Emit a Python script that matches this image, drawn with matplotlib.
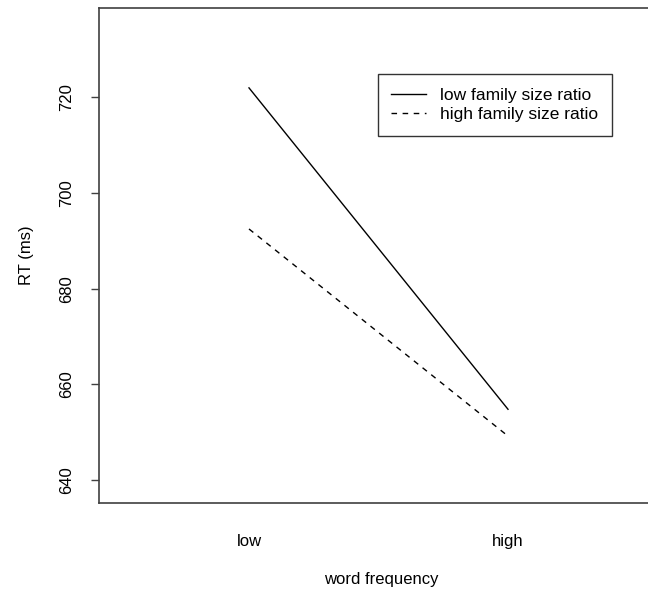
import matplotlib.pyplot as plt

plt.rcParams['font.family'] = ['Liberation Sans', 'DejaVu Sans']

freq_levels = ["low", "high"]
rt_low_ratio = [722.0, 654.8]
rt_high_ratio = [692.5, 649.2]
y_ticks = [640, 660, 680, 700, 720]


def main():
	fig = plt.figure(figsize=(6.48, 5.92), dpi=100)
	# plot region runs past the right edge of the device
	ax = fig.add_axes([0.1528, 0.1503, 0.871, 0.837])

	x = [1, 2]
	ax.plot(x, rt_low_ratio, color="black", lw=1.0, ls="-",
		label="low family size ratio")
	ax.plot(x, rt_high_ratio, color="black", lw=1.0, ls=(0, (4, 4)),
		label="high family size ratio")

	ax.set_xlim(0.421, 2.6)
	ax.set_ylim(635.2, 738.8)

	ax.set_xticks(x)
	ax.set_xticklabels(freq_levels, fontsize=12)
	ax.tick_params(axis="x", length=0, pad=22)
	ax.set_yticks(y_ticks)
	ax.set_yticklabels([str(v) for v in y_ticks], rotation=90, va="center", fontsize=12)
	ax.tick_params(axis="y", length=6, width=1.0, color="#404040", pad=12)

	for s in ax.spines.values():
		s.set_color("#404040")
		s.set_linewidth(1.2)

	ax.set_xlabel("word frequency", fontsize=12, labelpad=17)
	ax.set_ylabel("RT (ms)", fontsize=12, labelpad=18)

	leg = ax.legend(loc="upper left", bbox_to_anchor=(0.494, 0.866),
		frameon=True, fancybox=False, fontsize=12.5, handlelength=2.0,
		handletextpad=0.8, borderpad=0.78, labelspacing=0.25,
		borderaxespad=0)
	leg.get_frame().set_edgecolor("black")
	leg.get_frame().set_linewidth(1.0)

	fig.savefig("out.png", dpi=100)


if __name__ == "__main__":
	main()
